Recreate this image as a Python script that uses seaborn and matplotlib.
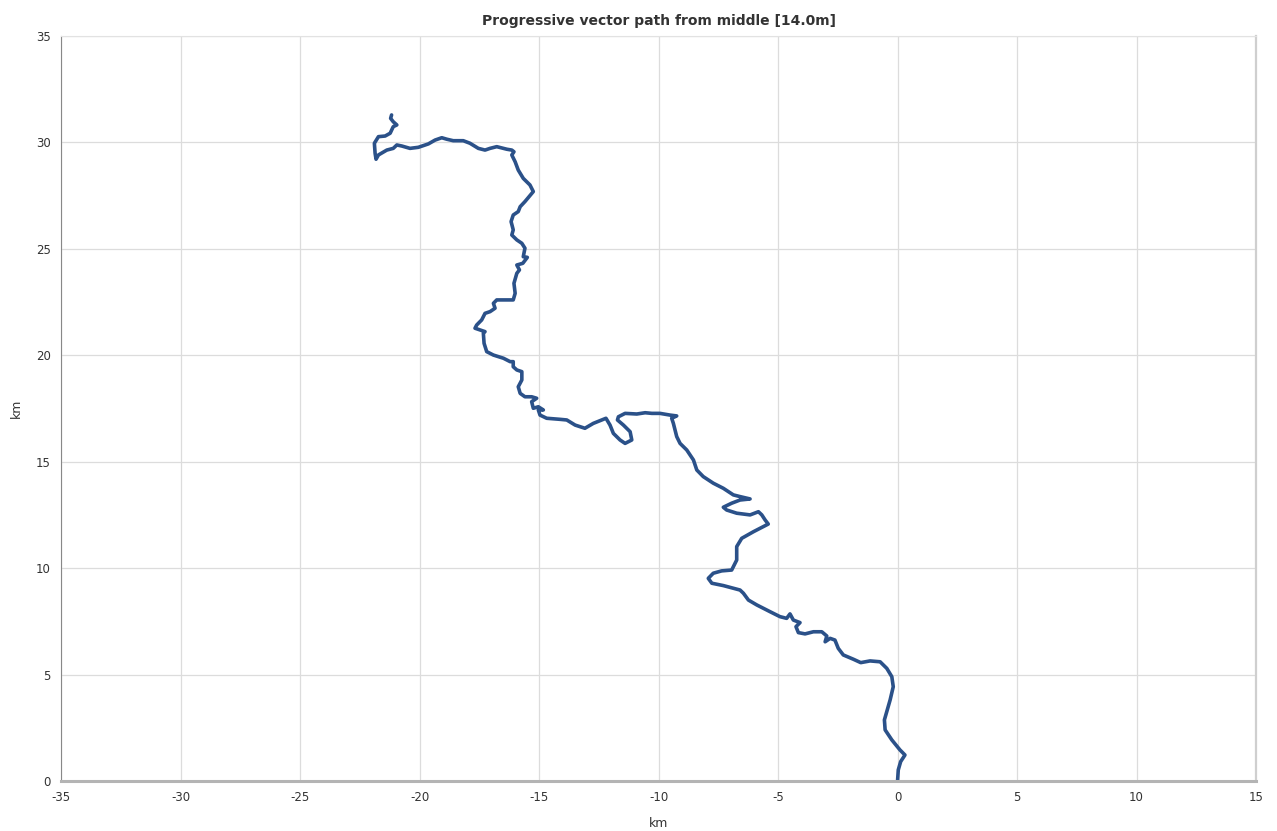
import matplotlib
matplotlib.use("Agg")
import matplotlib.pyplot as plt
import seaborn as sns
import pandas as pd

# progressive vector path, km east / km north
x_km = [0.0, 0.03, 0.13, 0.31, 0.10, -0.24, -0.52, -0.55, -0.45, -0.31,
        -0.18, -0.24, -0.45, -0.73, -1.15, -1.54, -1.85, -2.27, -2.48, -2.62,
        -2.82, -3.03, -2.96, -3.17, -3.52, -3.87, -4.15, -4.25, -4.08, -4.36,
        -4.50, -4.64, -4.92, -5.33, -5.89, -6.24, -6.45, -6.59, -7.29, -7.77,
        -7.92, -7.71, -7.36, -6.94, -6.80, -6.73, -6.73, -6.52, -6.03, -5.62,
        -5.41, -5.54, -5.68, -5.82, -6.17, -6.73, -7.15, -7.29, -6.94, -6.59,
        -6.17, -6.59, -6.87, -7.29, -7.71, -8.13, -8.40, -8.54, -8.82, -9.10,
        -9.24, -9.31, -9.38, -9.45, -9.24, -9.52, -9.94, -10.28, -10.56, -10.91,
        -11.40, -11.68, -11.72, -11.47, -11.19, -11.12, -11.40, -11.61, -11.89, -12.03,
        -12.20, -12.31, -12.73, -13.08, -13.49, -13.84, -14.12, -14.68, -14.96, -15.03,
        -14.82, -15.03, -15.24, -15.31, -15.10, -15.31, -15.59, -15.79, -15.87, -15.72,
        -15.72, -15.93, -16.08, -16.08, -16.21, -16.49, -16.91, -17.19, -17.30, -17.33,
        -17.26, -17.47, -17.68, -17.61, -17.40, -17.26, -17.05, -16.84, -16.91, -16.77,
        -16.49, -16.08, -16.00, -16.05, -15.93, -15.82, -15.93, -15.68, -15.49, -15.66,
        -15.59, -15.72, -15.93, -16.14, -16.08, -16.17, -16.08, -15.87, -15.79, -15.59,
        -15.24, -15.38, -15.66, -15.87, -16.00, -16.14, -16.05, -16.14, -16.35, -16.77,
        -17.05, -17.26, -17.54, -17.89, -18.17, -18.59, -18.86, -19.07, -19.35, -19.63,
        -20.05, -20.40, -20.74, -20.95, -21.10, -21.37, -21.72, -21.82, -21.86, -21.89,
        -21.72, -21.44, -21.23, -21.10, -20.95, -21.10, -21.21, -21.17]
y_km = [0.0, 0.52, 0.91, 1.22, 1.46, 1.93, 2.40, 2.87, 3.26, 3.81,
        4.43, 4.90, 5.29, 5.60, 5.64, 5.56, 5.72, 5.92, 6.23, 6.62,
        6.70, 6.54, 6.81, 7.01, 7.01, 6.91, 6.97, 7.25, 7.44, 7.56,
        7.85, 7.64, 7.72, 7.95, 8.27, 8.50, 8.82, 8.97, 9.18, 9.29,
        9.52, 9.76, 9.87, 9.91, 10.23, 10.38, 11.01, 11.40, 11.71, 11.95,
        12.07, 12.26, 12.50, 12.65, 12.50, 12.58, 12.73, 12.86, 13.05, 13.20,
        13.25, 13.36, 13.44, 13.75, 13.99, 14.30, 14.61, 15.08, 15.55, 15.86,
        16.18, 16.49, 16.80, 17.04, 17.15, 17.19, 17.27, 17.27, 17.30, 17.24,
        17.27, 17.11, 16.96, 16.72, 16.41, 16.02, 15.86, 16.02, 16.33, 16.72,
        17.04, 16.99, 16.80, 16.57, 16.72, 16.96, 16.99, 17.04, 17.19, 17.43,
        17.43, 17.58, 17.51, 17.82, 17.98, 18.05, 18.05, 18.21, 18.52, 18.84,
        19.23, 19.31, 19.46, 19.70, 19.70, 19.86, 20.01, 20.17, 20.56, 21.03,
        21.11, 21.19, 21.27, 21.42, 21.66, 21.97, 22.05, 22.21, 22.44, 22.60,
        22.60, 22.60, 22.91, 23.38, 23.85, 24.01, 24.24, 24.32, 24.60, 24.63,
        25.03, 25.26, 25.42, 25.65, 25.89, 26.28, 26.59, 26.75, 26.98, 27.22,
        27.69, 28.00, 28.31, 28.70, 29.09, 29.41, 29.56, 29.64, 29.68, 29.80,
        29.72, 29.64, 29.72, 29.96, 30.08, 30.08, 30.15, 30.22, 30.11, 29.93,
        29.77, 29.72, 29.83, 29.88, 29.72, 29.64, 29.41, 29.21, 29.49, 29.96,
        30.27, 30.30, 30.43, 30.74, 30.82, 30.97, 31.13, 31.29]

x_ticks = list(range(-35, 20, 5))
y_ticks = list(range(0, 40, 5))

df = pd.DataFrame({"x": x_km, "y": y_km})

sns.set_style("white")
plt.rcParams["font.family"] = ["DejaVu Sans"]
plt.rcParams["axes.unicode_minus"] = False

fig = plt.figure(figsize=(12.77, 8.31), dpi=100)
ax = fig.add_axes([0.0478, 0.0602, 0.9358, 0.8965])

sns.lineplot(data=df, x="x", y="y", sort=False, estimator=None,
             color="#2b5189", linewidth=2.6, ax=ax)

ax.set_xlim(-35, 15)
ax.set_ylim(0, 35)
ax.set_xticks(x_ticks)
ax.set_yticks(y_ticks)
ax.grid(True, color="#dcdcdc", linewidth=0.9)
ax.set_axisbelow(True)

ax.tick_params(axis="both", labelsize=8.5, labelcolor="#333333", color="#888888",
               length=4, width=0.8, direction="out")
ax.set_xlabel("km", fontsize=9, color="#333333", labelpad=9)
ax.set_ylabel("km", fontsize=9, color="#333333", labelpad=9)
ax.set_title("Progressive vector path from middle [14.0m]", fontsize=10,
             fontweight="bold", color="#333333", pad=8)

ax.spines["left"].set_color("#888888")
ax.spines["left"].set_linewidth(0.8)
ax.spines["bottom"].set_color("#b4b4b4")
ax.spines["bottom"].set_linewidth(2.2)
ax.spines["right"].set_color("#cfcfcf")
ax.spines["right"].set_linewidth(1.6)
ax.spines["top"].set_color("#e2e2e2")
ax.spines["top"].set_linewidth(0.8)

fig.savefig("out.png", dpi=100)
